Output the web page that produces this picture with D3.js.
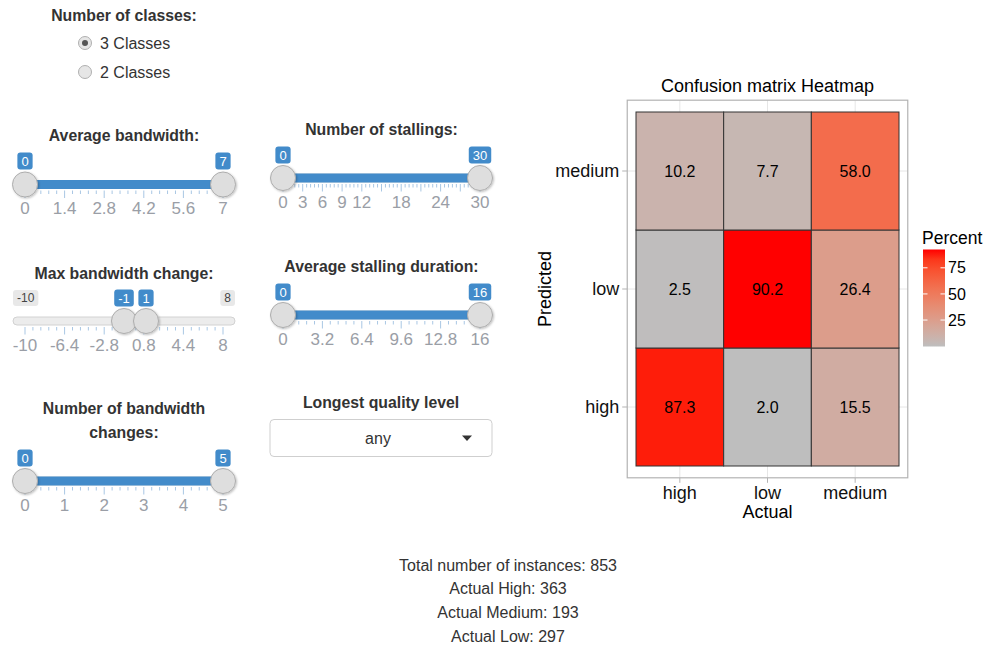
<!DOCTYPE html>
<html>
<head>
<meta charset="utf-8">
<script src="https://cdnjs.cloudflare.com/ajax/libs/d3/7.8.5/d3.min.js"></script>
<style>
  body { margin: 0; background: #fff; }
  svg { display: block; font-family: "Liberation Sans", Arial, Helvetica, sans-serif; }
</style>
</head>
<body>
<svg id="app" width="987" height="648"></svg>
<script>
// radio options
var classOptions = ['3 Classes', '2 Classes'];
var classSelected = '3 Classes';

// slider ranges, values and grid labels
var bandwidthRange = [0, 7];
var bandwidthValue = [0, 7];
var bandwidthGrid = [0, 1.4, 2.8, 4.2, 5.6, 7];

var stallingsRange = [0, 30];
var stallingsValue = [0, 30];
var stallingsGrid = [0, 3, 6, 9, 12, 15, 18, 21, 24, 27, 30];
var stallingsLabels = [0, 3, 6, 9, 12, 18, 24, 30];

var bwChangeRange = [-10, 8];
var bwChangeValue = [-1, 1];
var bwChangeGrid = [-10, -6.4, -2.8, 0.8, 4.4, 8];

var stallDurRange = [0, 16];
var stallDurValue = [0, 16];
var stallDurGrid = [0, 3.2, 6.4, 9.6, 12.8, 16];

var bwCountRange = [0, 5];
var bwCountValue = [0, 5];
var bwCountGrid = [0, 1, 2, 3, 4, 5];

var qualitySelected = 'any';

// confusion matrix, percent of each actual class (columns: high, low, medium)
var classes = ['high', 'low', 'medium'];
var predictedHigh = [87.3, 2.0, 15.5];
var predictedLow = [2.5, 90.2, 26.4];
var predictedMedium = [10.2, 7.7, 58.0];
var legendTicks = [25, 50, 75];

// summary counts
var totalInstances = 853;
var actualNames = ['High', 'Medium', 'Low'];
var actualCounts = [363, 193, 297];

var svg = d3.select('#app');
var blue = '#428bca';

// shadow for the slider handles
var defs = svg.append('defs');
defs.append('filter').attr('id', 'shadow')
  .attr('x', '-30%').attr('y', '-30%').attr('width', '160%').attr('height', '160%')
  .append('feDropShadow')
    .attr('dx', 1).attr('dy', 1).attr('stdDeviation', 1)
    .attr('flood-color', '#000').attr('flood-opacity', 0.25);

// ---- radio buttons ----
svg.append('text')
  .attr('x', 124).attr('y', 15).attr('dy', '0.35em')
  .attr('text-anchor', 'middle')
  .style('font-weight', 'bold').style('font-size', '15.8px').style('fill', '#333')
  .text('Number of classes:');

var radio = svg.selectAll('g.radio')
  .data(classOptions)
  .enter().append('g')
    .attr('class', 'radio')
    .attr('transform', function(d, i) { return 'translate(85,' + (43 + i * 29) + ')'; });
radio.append('circle')
  .attr('r', 6.5)
  .style('fill', '#e6e6e6').style('stroke', '#b0b0b0');
radio.filter(function(d) { return d === classSelected; })
  .append('circle')
    .attr('r', 3)
    .style('fill', '#555');
radio.append('text')
  .attr('x', 15).attr('dy', '0.35em')
  .style('font-size', '16px').style('fill', '#333')
  .text(function(d) { return d; });

// ---- sliders ----
function slider(cfg) {
  var x = d3.scaleLinear().domain(cfg.range).range([cfg.x0, cfg.x1]);
  var g = svg.append('g');
  var cx = (cfg.x0 + cfg.x1) / 2;
  var ty = cfg.trackY;

  g.selectAll('text.title')
    .data(cfg.title)
    .enter().append('text')
      .attr('class', 'title')
      .attr('x', cx)
      .attr('y', function(d, i) { return cfg.titleY + i * 24; })
      .attr('dy', '0.35em')
      .attr('text-anchor', 'middle')
      .style('font-weight', 'bold').style('font-size', '15.8px').style('fill', '#333')
      .text(function(d) { return d; });

  // track line
  g.append('rect')
    .attr('x', cfg.x0 - 12).attr('y', ty - 4)
    .attr('width', cfg.x1 - cfg.x0 + 24).attr('height', 8)
    .attr('rx', 4)
    .style('fill', '#ececec').style('stroke', '#d2d2d2');

  // selected bar
  g.append('rect')
    .attr('x', x(cfg.value[0])).attr('y', ty - 4.5)
    .attr('width', x(cfg.value[1]) - x(cfg.value[0])).attr('height', 9)
    .style('fill', blue);

  // grid ticks: majors at grid values, 4 minors between
  var minors = [];
  for (var i = 0; i < cfg.grid.length - 1; i++) {
    for (var k = 1; k < 5; k++) {
      minors.push(cfg.grid[i] + (cfg.grid[i + 1] - cfg.grid[i]) * k / 5);
    }
  }
  g.selectAll('line.minor')
    .data(minors)
    .enter().append('line')
      .attr('class', 'minor')
      .attr('x1', function(d) { return x(d); }).attr('x2', function(d) { return x(d); })
      .attr('y1', ty + 6).attr('y2', ty + 9.5)
      .style('stroke', '#a9c7e4').style('stroke-width', 1);
  g.selectAll('line.major')
    .data(cfg.grid)
    .enter().append('line')
      .attr('class', 'major')
      .attr('x1', function(d) { return x(d); }).attr('x2', function(d) { return x(d); })
      .attr('y1', ty + 6).attr('y2', ty + 13.5)
      .style('stroke', '#a9c7e4').style('stroke-width', 1);
  g.selectAll('text.grid')
    .data(cfg.labels || cfg.grid)
    .enter().append('text')
      .attr('class', 'grid')
      .attr('x', function(d) { return x(d); })
      .attr('y', ty + 24)
      .attr('dy', '0.35em')
      .attr('text-anchor', 'middle')
      .style('font-size', '17px').style('fill', '#9a9ea6')
      .text(function(d) { return String(d); });

  // min / max labels
  if (cfg.showMinMax) {
    [cfg.range[0], cfg.range[1]].forEach(function(v, i) {
      var t = g.append('text')
        .attr('y', cfg.badgeY).attr('dy', '0.35em')
        .style('font-size', '12px').style('fill', '#444')
        .text(String(v));
      var w = t.node().getComputedTextLength() + 8;
      var left = i === 0 ? cfg.x0 - 12 : cfg.x1 + 12 - w;
      t.attr('x', left + 4);
      g.insert('rect', 'text:last-child')
        .attr('x', left).attr('y', cfg.badgeY - 8)
        .attr('width', w).attr('height', 16).attr('rx', 3)
        .style('fill', '#e8e8e8');
    });
  }

  // value badges
  cfg.value.forEach(function(v) {
    var b = g.append('g');
    var t = b.append('text')
      .attr('x', x(v)).attr('y', cfg.badgeY).attr('dy', '0.35em')
      .attr('text-anchor', 'middle')
      .style('font-size', '13px').style('fill', '#fff')
      .text(String(v));
    var w = t.node().getComputedTextLength() + 8;
    b.insert('rect', 'text')
      .attr('x', x(v) - w / 2).attr('y', cfg.badgeY - 8.5)
      .attr('width', w).attr('height', 17).attr('rx', 3)
      .style('fill', blue);
  });

  // handles
  g.selectAll('circle.handle')
    .data(cfg.value)
    .enter().append('circle')
      .attr('class', 'handle')
      .attr('cx', function(d) { return x(d); })
      .attr('cy', ty)
      .attr('r', 12.5)
      .attr('filter', 'url(#shadow)')
      .style('fill', '#dedede').style('stroke', '#adadad');
}

slider({ title: ['Average bandwidth:'], range: bandwidthRange, value: bandwidthValue,
  grid: bandwidthGrid, x0: 25, x1: 223, titleY: 135, badgeY: 161, trackY: 184.5 });
slider({ title: ['Number of stallings:'], range: stallingsRange, value: stallingsValue,
  grid: stallingsGrid, labels: stallingsLabels, x0: 283, x1: 480, titleY: 129, badgeY: 155, trackY: 178 });
slider({ title: ['Max bandwidth change:'], range: bwChangeRange, value: bwChangeValue,
  grid: bwChangeGrid, x0: 25, x1: 223, titleY: 273, badgeY: 298, trackY: 321, showMinMax: true });
slider({ title: ['Average stalling duration:'], range: stallDurRange, value: stallDurValue,
  grid: stallDurGrid, x0: 283, x1: 480, titleY: 266, badgeY: 292, trackY: 315 });
slider({ title: ['Number of bandwidth', 'changes:'], range: bwCountRange, value: bwCountValue,
  grid: bwCountGrid, x0: 25, x1: 223, titleY: 408, badgeY: 458, trackY: 481 });

// ---- select input ----
svg.append('text')
  .attr('x', 381).attr('y', 402).attr('dy', '0.35em')
  .attr('text-anchor', 'middle')
  .style('font-weight', 'bold').style('font-size', '15.8px').style('fill', '#333')
  .text('Longest quality level');
svg.append('rect')
  .attr('x', 270).attr('y', 419.5).attr('width', 222).attr('height', 37).attr('rx', 4)
  .style('fill', '#fff').style('stroke', '#cfcfcf');
svg.append('text')
  .attr('x', 378).attr('y', 438).attr('dy', '0.35em')
  .attr('text-anchor', 'middle')
  .style('font-size', '16px').style('fill', '#333')
  .text(qualitySelected);
svg.append('path')
  .attr('d', 'M462,435.5 L472,435.5 L467,441 Z')
  .style('fill', '#333');

// ---- heatmap ----
var x = d3.scaleBand().domain(classes).range([636, 899]);
var y = d3.scaleBand().domain(classes).range([466, 112]);
var color = d3.scaleLinear()
  .domain([2.0, 90.2])
  .range(['#bebebe', '#ff0000'])
  .interpolate(d3.interpolateLab);

var padX = x.bandwidth() * 0.1, padY = y.bandwidth() * 0.1;
var px0 = 636 - padX, px1 = 899 + padX, py0 = 112 - padY, py1 = 466 + padY;

var heat = svg.append('g');
heat.append('rect')
  .attr('x', px0).attr('y', py0).attr('width', px1 - px0).attr('height', py1 - py0)
  .style('fill', '#fff');
heat.selectAll('line.gx')
  .data(classes)
  .enter().append('line')
    .attr('x1', function(d) { return x(d) + x.bandwidth() / 2; })
    .attr('x2', function(d) { return x(d) + x.bandwidth() / 2; })
    .attr('y1', py0).attr('y2', py1)
    .style('stroke', '#e6e6e6');
heat.selectAll('line.gy')
  .data(classes)
  .enter().append('line')
    .attr('y1', function(d) { return y(d) + y.bandwidth() / 2; })
    .attr('y2', function(d) { return y(d) + y.bandwidth() / 2; })
    .attr('x1', px0).attr('x2', px1)
    .style('stroke', '#e6e6e6');

var rows = [
  { pred: 'high', vals: predictedHigh },
  { pred: 'low', vals: predictedLow },
  { pred: 'medium', vals: predictedMedium }
];
var cells = [];
rows.forEach(function(r) {
  r.vals.forEach(function(v, i) { cells.push({ pred: r.pred, actual: classes[i], value: v }); });
});

heat.selectAll('rect.tile')
  .data(cells)
  .enter().append('rect')
    .attr('class', 'tile')
    .attr('x', function(d) { return x(d.actual); })
    .attr('y', function(d) { return y(d.pred); })
    .attr('width', x.bandwidth())
    .attr('height', y.bandwidth())
    .style('fill', function(d) { return color(d.value); })
    .style('stroke', '#333').style('stroke-width', 1);
heat.selectAll('text.val')
  .data(cells)
  .enter().append('text')
    .attr('class', 'val')
    .attr('x', function(d) { return x(d.actual) + x.bandwidth() / 2; })
    .attr('y', function(d) { return y(d.pred) + y.bandwidth() / 2; })
    .attr('dy', '0.35em')
    .attr('text-anchor', 'middle')
    .style('font-size', '16px').style('fill', '#000')
    .text(function(d) { return d3.format('.1f')(d.value); });

heat.append('rect')
  .attr('x', px0).attr('y', py0).attr('width', px1 - px0).attr('height', py1 - py0)
  .style('fill', 'none').style('stroke', '#b3b3b3').style('stroke-width', 1.2);

// axes
var yAxis = heat.append('g')
  .attr('transform', 'translate(' + px0 + ',0)')
  .call(d3.axisLeft(y).tickSize(5).tickPadding(3));
var xAxis = heat.append('g')
  .attr('transform', 'translate(0,' + py1 + ')')
  .call(d3.axisBottom(x).tickSize(5).tickPadding(3));
[xAxis, yAxis].forEach(function(a) {
  a.select('.domain').remove();
  a.selectAll('line').style('stroke', '#b3b3b3');
  a.selectAll('text')
    .style('font-size', '18px').style('fill', '#111')
    .style('font-family', '"Liberation Sans", Arial, sans-serif');
});

heat.append('text')
  .attr('x', (px0 + px1) / 2).attr('y', 86).attr('dy', '0.35em')
  .attr('text-anchor', 'middle')
  .style('font-size', '18px').style('fill', '#000')
  .text('Confusion matrix Heatmap');
heat.append('text')
  .attr('x', (px0 + px1) / 2).attr('y', 512).attr('dy', '0.35em')
  .attr('text-anchor', 'middle')
  .style('font-size', '18px').style('fill', '#000')
  .text('Actual');
heat.append('text')
  .attr('transform', 'translate(545,' + ((py0 + py1) / 2) + ') rotate(-90)')
  .attr('dy', '0.35em')
  .attr('text-anchor', 'middle')
  .style('font-size', '18px').style('fill', '#000')
  .text('Predicted');

// legend colour bar
var barX = 923, barW = 22, barTop = 249.5, barBot = 346.5;
var barH = barBot - barTop;
var legendY = d3.scaleLinear()
  .domain(color.domain())
  .range([barBot - 0.025 * barH, barTop + 0.025 * barH]);
var grad = defs.append('linearGradient')
  .attr('id', 'legendGrad')
  .attr('x1', 0).attr('y1', 1).attr('x2', 0).attr('y2', 0);
grad.selectAll('stop')
  .data(d3.range(0, 1.0001, 0.1))
  .enter().append('stop')
    .attr('offset', function(d) { return d; })
    .attr('stop-color', function(d) { return color(2.0 + d * (90.2 - 2.0)); });

var legend = svg.append('g');
legend.append('text')
  .attr('x', 922).attr('y', 238).attr('dy', '0.35em')
  .style('font-size', '17.5px').style('fill', '#000')
  .text('Percent');
legend.append('rect')
  .attr('x', barX).attr('y', barTop).attr('width', barW).attr('height', barH)
  .style('fill', 'url(#legendGrad)');
legend.selectAll('line.tl')
  .data(legendTicks)
  .enter().append('line')
    .attr('x1', barX).attr('x2', barX + 4.5)
    .attr('y1', function(d) { return legendY(d); }).attr('y2', function(d) { return legendY(d); })
    .style('stroke', '#fff');
legend.selectAll('line.tr')
  .data(legendTicks)
  .enter().append('line')
    .attr('x1', barX + barW - 4.5).attr('x2', barX + barW)
    .attr('y1', function(d) { return legendY(d); }).attr('y2', function(d) { return legendY(d); })
    .style('stroke', '#fff');
legend.selectAll('text.lt')
  .data(legendTicks)
  .enter().append('text')
    .attr('x', 948)
    .attr('y', function(d) { return legendY(d); })
    .attr('dy', '0.35em')
    .style('font-size', '16px').style('fill', '#000')
    .text(function(d) { return d; });

// ---- summary text ----
var summary = ['Total number of instances: ' + totalInstances].concat(
  actualNames.map(function(n, i) { return 'Actual ' + n + ': ' + actualCounts[i]; }));
svg.selectAll('text.summary')
  .data(summary)
  .enter().append('text')
    .attr('class', 'summary')
    .attr('x', 508)
    .attr('y', function(d, i) { return 565 + i * 23.7; })
    .attr('dy', '0.35em')
    .attr('text-anchor', 'middle')
    .style('font-size', '16px').style('fill', '#333')
    .text(function(d) { return d; });
</script>
</body>
</html>
